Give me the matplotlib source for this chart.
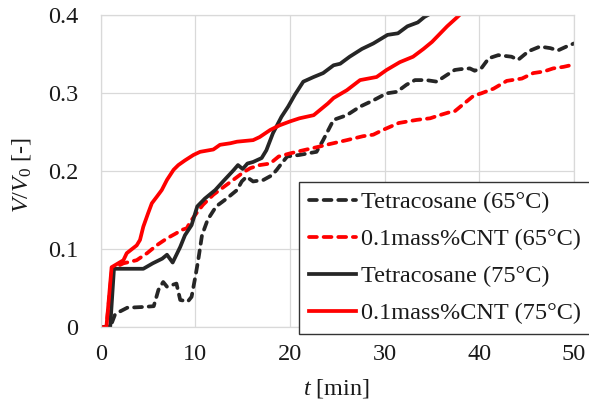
import matplotlib

matplotlib.use('Agg')
import matplotlib.pyplot as plt

# volume ratio V/V0 over time, tetracosane vs 0.1 mass% CNT at two bath temperatures
t_tc65 = [0, 1.0, 1.5, 2.0, 2.8, 4.5, 5.6, 6.1, 6.6, 7.0, 8.0, 8.4, 9.2, 9.6, 10.0, 10.3,
          10.7, 11.3, 12.2, 13.3, 14.4, 14.9, 15.4, 16.1, 17.2, 18.1, 18.6, 19.1, 19.7,
          21.0, 22.8, 23.5, 24.6, 26.0, 27.4, 28.8, 30.2, 31.3, 32.3, 33.2, 34.4, 35.5,
          36.5, 37.4, 38.0, 39.0, 39.5, 40.2, 41.0, 42.0, 43.4, 44.1, 45.2, 46.4, 47.5,
          48.3, 49.2, 50.0]
v_tc65 = [0, 0, 0.016, 0.020, 0.025, 0.026, 0.027, 0.048, 0.058, 0.052, 0.056, 0.035,
          0.033, 0.039, 0.065, 0.086, 0.118, 0.138, 0.155, 0.165, 0.176, 0.187, 0.193,
          0.187, 0.189, 0.195, 0.202, 0.210, 0.219, 0.221, 0.225, 0.240, 0.266, 0.272,
          0.283, 0.291, 0.300, 0.302, 0.311, 0.317, 0.317, 0.315, 0.323, 0.330, 0.331,
          0.332, 0.329, 0.332, 0.345, 0.349, 0.347, 0.343, 0.354, 0.360, 0.358, 0.355,
          0.360, 0.364]

t_cnt65 = [0, 0.6, 1.2, 2.4, 3.8, 4.9, 5.9, 7.0, 7.9, 8.6, 9.1, 9.45, 10.1, 10.8, 11.9,
           13.0, 14.0, 15.1, 15.8, 16.8, 17.9, 18.8, 20.0, 21.4, 23.2, 24.2, 26.0, 27.7,
           28.8, 29.8, 31.5, 33.4, 34.8, 35.8, 36.9, 37.4, 38.2, 39.4, 40.2, 41.5, 42.9,
           44.5, 45.7, 46.8, 47.8, 48.9, 50.0]
v_cnt65 = [0, 0, 0.075, 0.082, 0.086, 0.095, 0.105, 0.114, 0.120, 0.125, 0.127, 0.135,
           0.146, 0.157, 0.170, 0.180, 0.189, 0.199, 0.204, 0.208, 0.210, 0.219, 0.223,
           0.227, 0.232, 0.235, 0.240, 0.245, 0.247, 0.253, 0.262, 0.266, 0.268, 0.272,
           0.276, 0.277, 0.285, 0.297, 0.300, 0.306, 0.316, 0.319, 0.326, 0.328, 0.332,
           0.334, 0.337]

t_tc75 = [0, 1.0, 1.4, 2.5, 4.5, 5.5, 6.5, 7.0, 7.6, 8.4, 8.9, 9.6, 10.2, 11.0, 12.1,
          13.0, 14.0, 14.5, 15.0, 15.5, 16.1, 17.0, 17.5, 18.2, 19.1, 19.8, 20.5, 21.4,
          22.5, 23.5, 24.6, 25.3, 26.3, 27.6, 28.8, 30.3, 31.4, 32.4, 33.5, 34.2, 34.8,
          35.3]
v_tc75 = [0, 0, 0.075, 0.075, 0.075, 0.082, 0.088, 0.093, 0.083, 0.103, 0.118, 0.131,
          0.155, 0.165, 0.176, 0.188, 0.201, 0.208, 0.203, 0.210, 0.212, 0.217, 0.227,
          0.249, 0.270, 0.283, 0.298, 0.315, 0.321, 0.326, 0.336, 0.338, 0.347, 0.357,
          0.364, 0.375, 0.377, 0.386, 0.391, 0.398, 0.402, 0.408]

t_cnt75 = [0, 0.6, 1.15, 2.4, 2.75, 3.8, 4.15, 4.5, 5.0, 5.4, 5.9, 6.45, 7.0, 7.7, 8.2,
           8.9, 9.8, 10.5, 11.9, 12.6, 13.7, 14.4, 16.1, 16.8, 17.9, 18.9, 20.0, 21.0,
           22.5, 23.3, 24.0, 24.6, 26.0, 27.4, 29.15, 30.2, 31.6, 33.0, 34.1, 35.0, 35.8,
           36.6, 37.6, 38.3, 38.8]
v_cnt75 = [0, 0, 0.077, 0.086, 0.095, 0.105, 0.112, 0.129, 0.146, 0.159, 0.167, 0.176,
           0.189, 0.202, 0.208, 0.214, 0.221, 0.225, 0.228, 0.234, 0.236, 0.238, 0.240,
           0.244, 0.253, 0.259, 0.264, 0.268, 0.272, 0.280, 0.287, 0.294, 0.304, 0.317,
           0.321, 0.330, 0.340, 0.347, 0.357, 0.366, 0.376, 0.386, 0.397, 0.405, 0.412]

labels = ['Tetracosane (65\u00b0C)', '0.1mass%CNT (65\u00b0C)',
          'Tetracosane (75\u00b0C)', '0.1mass%CNT (75\u00b0C)']

plt.rcParams['font.family'] = ['Liberation Serif', 'DejaVu Serif']
plt.rcParams['font.size'] = 17.5
plt.rcParams['mathtext.fontset'] = 'custom'
plt.rcParams['mathtext.rm'] = 'Liberation Serif'
plt.rcParams['mathtext.it'] = 'Liberation Serif:italic'

BLACK = '#262626'
RED = '#ff0000'
GRID = '#d9d9d9'

fig = plt.figure(figsize=(5.89, 4.05), dpi=100)
ax = fig.add_axes([0.171, 0.192, 0.8035, 0.770])

dash = (2.1, 1.8)
lw = 2.7
ax.plot(t_tc65, v_tc65, color=BLACK, lw=lw, ls=(0, dash), dash_capstyle='round', label=labels[0])
ax.plot(t_cnt65, v_cnt65, color=RED, lw=lw, ls=(0, dash), dash_capstyle='round', label=labels[1])
ax.plot(t_tc75, v_tc75, color=BLACK, lw=lw, label=labels[2])
ax.plot(t_cnt75, v_cnt75, color=RED, lw=lw, label=labels[3])

ax.set_xlim(0, 50)
ax.set_ylim(0, 0.4)
ax.set_xticks([0, 10, 20, 30, 40, 50])
ax.set_yticks([0, 0.1, 0.2, 0.3, 0.4])
ax.set_yticklabels(['0', '0.1', '0.2', '0.3', '0.4'])
ax.tick_params(length=0, colors='#1a1a1a')
ax.tick_params(axis='y', pad=16)
ax.tick_params(axis='x', pad=12)
ax.grid(True, color=GRID, lw=0.9)
ax.set_axisbelow(True)
for s in ax.spines.values():
    s.set_color(GRID)
    s.set_linewidth(0.9)

ax.set_xlabel('$t$ [min]', color='#1a1a1a')
ax.set_ylabel('$V/V_0$ [-]', color='#1a1a1a')
ax.xaxis.set_label_coords(0.4987, -0.158)
ax.yaxis.set_label_coords(-0.143, 0.488)

leg = ax.legend(loc='upper left', bbox_to_anchor=(0.42, 0.466), fancybox=False,
                framealpha=1, edgecolor='#333333', handlelength=1.95,
                handletextpad=0.22, labelspacing=0.62, borderpad=0.38,
                borderaxespad=0)
leg.get_frame().set_linewidth(1.0)
for txt in leg.get_texts():
    txt.set_color('#1a1a1a')

fig.savefig('out.png', dpi=100)
